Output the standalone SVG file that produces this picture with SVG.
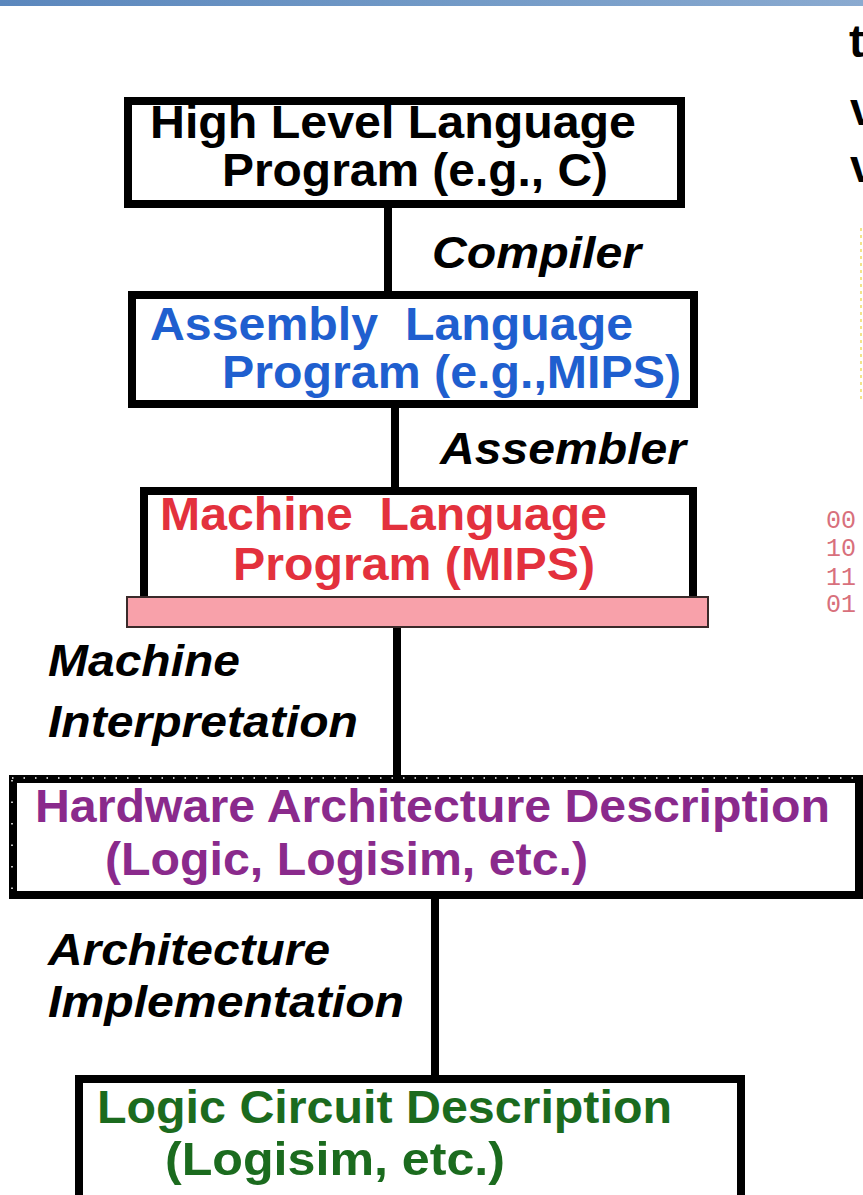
<svg xmlns="http://www.w3.org/2000/svg" width="863" height="1195" viewBox="0 0 863 1195">
  <defs>
    <linearGradient id="band" x1="0" y1="0" x2="1" y2="0">
      <stop offset="0" stop-color="#5b87bd"/>
      <stop offset="0.5" stop-color="#7199c6"/>
      <stop offset="1" stop-color="#8aaad0"/>
    </linearGradient>
    <style>
      .box { fill: #ffffff; stroke: #000000; stroke-width: 8; }
      .wire { stroke: #000000; stroke-width: 8; fill: none; }
      .t { font-family: "Liberation Sans", Arial, sans-serif; font-weight: bold; font-size: 46px; }
      .lbl { font-family: "Liberation Sans", Arial, sans-serif; font-weight: bold; font-style: italic; font-size: 44px; fill: #000000; }
      .bin { font-family: "Liberation Mono", "Courier New", monospace; font-size: 25px; fill: #d8707c; }
    </style>
  </defs>

  <rect x="0" y="0" width="863" height="1195" fill="#ffffff"/>
  <rect x="0" y="0" width="863" height="6" fill="url(#band)"/>

  <!-- partial content on the right edge -->
  <g id="side">
    <text class="t" x="849" y="57" fill="#000">t</text>
    <text class="t" x="850" y="125" fill="#000">v</text>
    <text class="t" x="850" y="182" fill="#000">v</text>
    <line x1="861" y1="228" x2="861" y2="402" stroke="#f2e48a" stroke-width="2" stroke-dasharray="3 4"/>
    <text class="bin" x="826" y="528">00</text>
    <text class="bin" x="826" y="556">10</text>
    <text class="bin" x="826" y="585">11</text>
    <text class="bin" x="826" y="612">01</text>
  </g>

  <!-- connectors -->
  <g id="connectors">
    <line class="wire" x1="388" y1="208" x2="388" y2="292"/>
    <line class="wire" x1="395" y1="408" x2="395" y2="488"/>
    <line class="wire" x1="397" y1="627" x2="397" y2="776"/>
    <line class="wire" x1="435" y1="898" x2="435" y2="1076"/>
    <text class="lbl" x="432" y="268" textLength="209" lengthAdjust="spacingAndGlyphs">Compiler</text>
    <text class="lbl" x="440" y="464" textLength="246" lengthAdjust="spacingAndGlyphs">Assembler</text>
    <text class="lbl" x="48" y="676" textLength="192" lengthAdjust="spacingAndGlyphs">Machine</text>
    <text class="lbl" x="48" y="737" textLength="310" lengthAdjust="spacingAndGlyphs">Interpretation</text>
    <text class="lbl" x="48" y="965" textLength="282" lengthAdjust="spacingAndGlyphs">Architecture</text>
    <text class="lbl" x="48" y="1017" textLength="356" lengthAdjust="spacingAndGlyphs">Implementation</text>
  </g>

  <g id="high-level">
    <rect class="box" x="128" y="101" width="553" height="103"/>
    <text class="t" x="150" y="138" fill="#000" textLength="486" lengthAdjust="spacingAndGlyphs">High Level Language</text>
    <text class="t" x="222" y="186" fill="#000" textLength="386" lengthAdjust="spacingAndGlyphs">Program (e.g., C)</text>
  </g>

  <g id="assembly">
    <rect class="box" x="132" y="295" width="562" height="109"/>
    <text class="t" x="150" y="340" fill="#1f5fcf" textLength="483" lengthAdjust="spacingAndGlyphs">Assembly&#160; Language</text>
    <text class="t" x="222" y="388" fill="#1f5fcf" textLength="459" lengthAdjust="spacingAndGlyphs">Program (e.g.,MIPS)</text>
  </g>

  <g id="machine">
    <path d="M144,599 V491 H693 V599" fill="#ffffff" stroke="#000" stroke-width="8"/>
    <rect x="127" y="597" width="581" height="30" fill="#f8a1aa" stroke="#3a2a2a" stroke-width="2"/>
    <text class="t" x="160" y="530" fill="#e3313d" textLength="447" lengthAdjust="spacingAndGlyphs">Machine&#160; Language</text>
    <text class="t" x="233" y="580" fill="#e3313d" textLength="362" lengthAdjust="spacingAndGlyphs">Program (MIPS)</text>
  </g>

  <g id="hardware">
    <rect class="box" x="13" y="779" width="846" height="116"/>
    <line x1="12" y1="778" x2="862" y2="778" stroke="#ffffff" stroke-width="1.5" stroke-dasharray="1.5 10"/>
    <line x1="12" y1="780" x2="12" y2="894" stroke="#ffffff" stroke-width="1.5" stroke-dasharray="1.5 20"/>
    <text class="t" x="35" y="822" fill="#8a2a8c" textLength="795" lengthAdjust="spacingAndGlyphs">Hardware Architecture Description</text>
    <text class="t" x="105" y="875" fill="#8a2a8c" textLength="483" lengthAdjust="spacingAndGlyphs">(Logic, Logisim, etc.)</text>
  </g>

  <g id="logic-circuit">
    <rect class="box" x="79" y="1079" width="662" height="124"/>
    <text class="t" x="97" y="1123" fill="#1b6b1e" textLength="575" lengthAdjust="spacingAndGlyphs">Logic Circuit Description</text>
    <text class="t" x="165" y="1175" fill="#1b6b1e" textLength="340" lengthAdjust="spacingAndGlyphs">(Logisim, etc.)</text>
  </g>
</svg>
